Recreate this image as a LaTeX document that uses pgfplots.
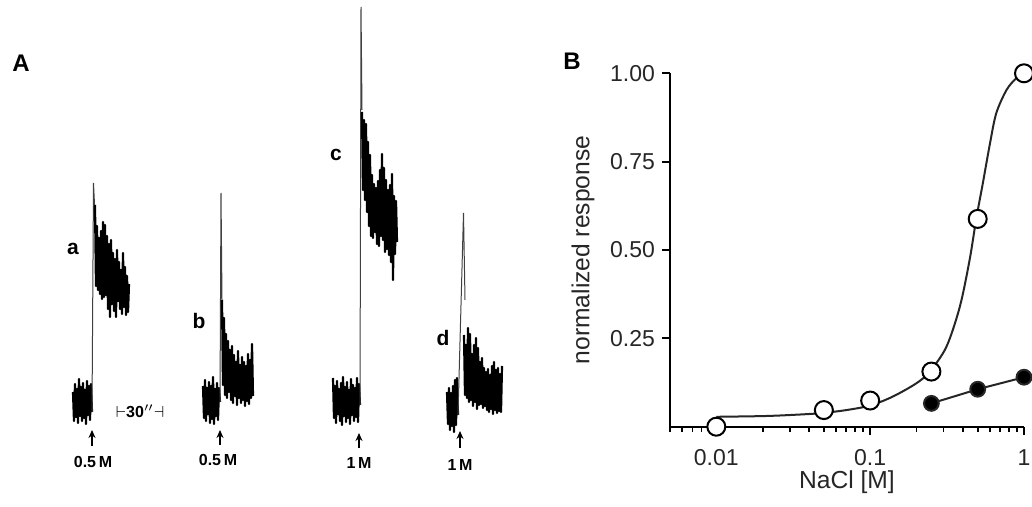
\documentclass[border=0pt]{standalone}
\usepackage{fontspec}
\setmainfont{Liberation Sans}
\usepackage{pgfplots}
\pgfplotsset{compat=1.18}
\usetikzlibrary{arrows.meta}
\tikzset{
  trace/.style={black, line width=1.1pt, line join=round},
  rise/.style={black!75, line width=0.5pt},
  arr/.style={black, line width=0.8pt, -{Stealth[length=4pt,width=3.5pt]}},
  lab/.style={font=\bfseries\fontsize{10.5}{10}\selectfont},
  conc/.style={font=\bfseries\fontsize{8}{8}\selectfont}}
\begin{document}
\begin{tikzpicture}
\useasboundingbox (0,0) rectangle (516pt,253.5pt);
% ---------- panel A: recorder traces (pixel units, y downward)
\begin{axis}[at={(0pt,0pt)}, anchor=south west, scale only axis,
  width=260pt, height=253.5pt, xmin=0, xmax=520, ymin=0, ymax=507,
  y dir=reverse, hide axis, clip=false]
% trace a
\addplot[trace] coordinates {(73,392)(74,421)(75,384)(76,417)(77,389)(78,423)(79,379)(80,416)(81,387)(82,421)(83,383)(84,418)(85,390)(86,424)(87,381)(88,415)(89,386)(90,420)(91,384)(92,412)};
\addplot[rise] coordinates {(92,412)(93.5,183)(95,215)};
\addplot[trace] coordinates {(95,205)(96,286)(97,226)(98,290)(99,238)(100,294)(101,231)(102,299)(103,222)(104,297)(105,225)(106,295)(107,236)(108,309)(109,244)(110,317)(111,240)(112,304)(113,253)(114,311)(115,259)(116,317)(117,250)(118,301)(119,262)(120,309)(121,270)(122,314)(123,253)(124,307)(125,267)(126,315)(127,276)(128,312)(129,284)};
% trace b
\addplot[trace] coordinates {(203,386)(204,418)(205,380)(206,421)(207,388)(208,414)(209,382)(210,423)(211,386)(212,419)(213,377)(214,424)(215,389)(216,416)(217,383)(218,420)(219,388)(220,402)};
\addplot[rise] coordinates {(220,402)(221,193)(222,300)};
\addplot[trace] coordinates {(222,300)(223,385)(224,318)(225,395)(226,334)(227,398)(228,341)(229,392)(230,350)(231,400)(232,346)(233,403)(234,355)(235,396)(236,362)(237,405)(238,351)(239,398)(240,365)(241,403)(242,357)(243,400)(244,362)(245,406)(246,366)(247,401)(248,354)(249,404)(250,360)(251,398)(252,344)(253,396)};
% trace c
\addplot[trace] coordinates {(333,378)(334,418)(335,386)(336,423)(337,381)(338,414)(339,389)(340,421)(341,383)(342,425)(343,377)(344,416)(345,387)(346,422)(347,382)(348,418)(349,390)(350,424)(351,379)(352,415)(353,385)(354,421)(355,388)(356,417)(357,378)(358,422)(359,384)(360,405)};
\addplot[rise] coordinates {(360,405)(361,7)(362,110)};
\addplot[trace] coordinates {(362,112)(363,190)(364,120)(365,200)(366,124)(367,212)(368,142)(369,226)(370,155)(371,236)(372,175)(373,238)(374,184)(375,232)(376,188)(377,244)(378,181)(379,246)(380,170)(381,236)(382,154)(383,240)(384,168)(385,252)(386,180)(387,249)(388,190)(389,255)(390,185)(391,262)(392,174)(393,280)(394,196)(395,254)(396,201)(397,242)};
% trace d
\addplot[trace] coordinates {(447,392)(448,424)(449,388)(450,430)(451,393)(452,426)(453,386)(454,432)(455,380)(456,425)(457,378)(458,415)};
\addplot[rise] coordinates {(458,415)(463.5,213)(465,300)};
\addplot[trace] coordinates {(464,335)(465,395)(466,345)(467,398)(468,328)(469,402)(470,334)(471,400)(472,354)(473,406)(474,345)(475,402)(476,338)(477,409)(478,348)(479,405)(480,362)(481,404)(482,358)(483,408)(484,368)(485,406)(486,372)(487,410)(488,369)(489,412)(490,375)(491,409)(492,366)(493,414)(494,362)(495,410)(496,370)(497,413)(498,368)(499,411)(500,374)(501,412)(502,366)};
% stimulus arrows
\addplot[arr] coordinates {(92,446)(92,430)};
\addplot[arr] coordinates {(220,445)(220,430)};
\addplot[arr] coordinates {(359,448)(359,433)};
\addplot[arr] coordinates {(460,448)(460,431)};
\node[font=\bfseries\fontsize{12}{12}\selectfont] at (axis cs:21,63) {A};
\node[lab] at (axis cs:73,249) {a};
\node[lab] at (axis cs:199,321) {b};
\node[lab] at (axis cs:336,155) {c};
\node[lab] at (axis cs:443,338) {d};
\node[conc] at (axis cs:93,462) {0.5\,M};
\node[conc] at (axis cs:218,460) {0.5\,M};
\node[conc] at (axis cs:359,463) {1\,M};
\node[conc] at (axis cs:460,465) {1\,M};
\node[conc] at (axis cs:140,411) {$\vdash$30$''$$\dashv$};
\end{axis}
% ---------- panel B: dose-response
\begin{axis}[at={(335pt,40.15pt)}, anchor=south west, scale only axis,
  width=177pt, height=176.7pt,
  xmode=log, xmin=0.005, xmax=1, ymin=0, ymax=1,
  axis lines=left, axis line style={-, line width=1.1pt},
  tick align=outside, tick style={black, line width=0.9pt},
  major tick length=4pt, minor tick length=2.5pt,
  xtick={0.01,0.1,1}, xticklabels={0.01,0.1,1},
  minor xtick={0.005,0.006,0.007,0.008,0.009,0.02,0.03,0.04,0.05,0.06,0.07,0.08,0.09,0.2,0.3,0.4,0.5,0.6,0.7,0.8,0.9},
  ytick={0.25,0.5,0.75,1}, yticklabels={0.25,0.50,0.75,1.00},
  /pgf/number format/assume math mode=true,
  ticklabel style={font=\fontsize{11.5}{12}\selectfont, text=black!85},
  xticklabel style={yshift=-4pt},
  label style={font=\fontsize{12.3}{13}\selectfont, text=black!85},
  xlabel={NaCl [M]}, ylabel={normalized response},
  xlabel style={at={(axis description cs:0.5,-0.158)}, anchor=center},
  ylabel style={at={(axis description cs:-0.2458,0.5)}, anchor=center},
  clip=false]
\addplot[black!85, line width=1pt, smooth] coordinates {(0.01,0.028)(0.02,0.030)(0.03,0.033)(0.047,0.038)(0.07,0.047)(0.1,0.060)(0.14,0.085)(0.2,0.123)(0.244,0.156)(0.313,0.226)(0.383,0.34)(0.443,0.472)(0.49,0.59)(0.54,0.689)(0.6,0.80)(0.66,0.887)(0.77,0.953)(0.89,0.986)(1,1.0)};
\addplot[black!85, line width=1pt, mark=*, mark size=3.7pt, mark options={fill=black}] coordinates {(0.25,0.066)(0.5,0.106)(1,0.14)};
\addplot[only marks, mark=*, mark size=4.5pt, mark options={fill=white, draw=black, line width=1pt}] coordinates {(0.01,0.0)(0.05,0.047)(0.1,0.074)(0.25,0.156)(0.5,0.588)(1,1.0)};
\end{axis}
\node[font=\bfseries\fontsize{12}{12}\selectfont] at (286pt,223pt) {B};
\end{tikzpicture}
\end{document}
